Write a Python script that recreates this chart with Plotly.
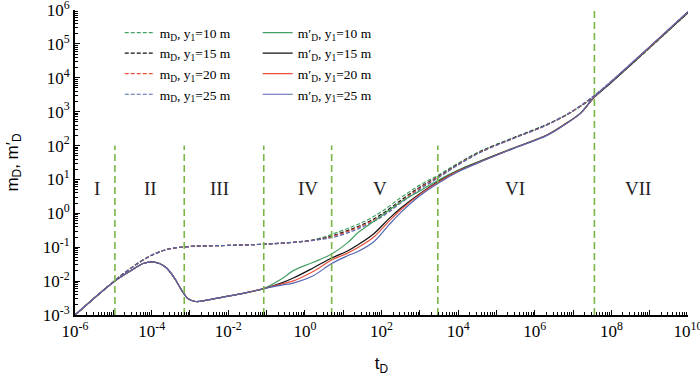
import math
import plotly.graph_objects as go

# ---------------- data ----------------
# common early part of m_D (identical for all y1)
t_m_common = [1e-6, 1e-5, 3e-5, 1e-4, 3e-4, 1e-3, 1e-2, 1e-1, 1]
m_common = [1.0e-3, 9.5e-3, 0.025, 0.058, 0.09, 0.105, 0.113, 0.124, 0.15]

# later part of m_D, per series
t_m_late = [3, 5, 16, 42, 100, 316, 1000, 2950, 1e4, 3.7e4, 2.75e5, 2.1e6, 1e7,
            3.6e7, 1e8, 3.16e8, 1e9, 3.16e9, 1e10]
m_10 = [0.195, 0.24, 0.39, 0.63, 1.12, 2.88, 6.8, 13.2, 30.2, 67.6, 170, 427, 1047,
        2820, 7410, 23400, 75900, 251000, 832000]
m_15 = [0.182, 0.214, 0.339, 0.537, 0.933, 2.4, 5.9, 12.0, 28.2, 64.6, 166, 417, 1047,
        2880, 7590, 24000, 77600, 257000, 851000]
m_20 = [0.178, 0.204, 0.316, 0.50, 0.85, 2.19, 5.5, 11.5, 27.5, 63.1, 162, 407, 1047,
        2950, 7760, 24500, 79400, 263000, 871000]
m_25 = [0.174, 0.19, 0.288, 0.457, 0.776, 2.0, 5.1, 11.0, 26.9, 61.7, 162, 407, 1072,
        3020, 7940, 25100, 81300, 269000, 891000]

# common early part of the derivative m'_D
t_d_common = [1e-6, 1e-5, 3e-5, 6e-5, 1e-4, 1.6e-4, 2.5e-4, 4e-4, 6e-4, 9e-4, 1.4e-3,
              3e-3, 1e-2, 3e-2, 8e-2]
d_common = [1.0e-3, 9.3e-3, 0.021, 0.033, 0.037, 0.033, 0.024, 0.012, 0.0055, 0.003,
            0.0025, 0.0028, 0.0036, 0.0046, 0.0059]

# later part of m'_D, per series
t_d_late = [0.25, 0.5, 1.6, 5, 12.6, 25, 63, 160, 316, 1000, 2950, 1e4, 3.7e4, 2.75e5,
            2.1e6, 5.6e6, 1.55e7, 2.5e7, 3.6e7, 1e8, 1e9, 1e10]
d_10 = [0.0117, 0.0204, 0.0355, 0.063, 0.132, 0.275, 0.58, 1.26, 2.14, 4.6, 9.3, 18.8,
        34.7, 85, 209, 407, 891, 1660, 2690, 7240, 77600, 832000]
d_15 = [0.0089, 0.0123, 0.024, 0.048, 0.076, 0.12, 0.25, 0.71, 1.41, 3.8, 8.5, 18.0,
        33.9, 83, 204, 398, 891, 1660, 2690, 7410, 79400, 851000]
d_20 = [0.0083, 0.0102, 0.019, 0.042, 0.066, 0.10, 0.20, 0.60, 1.26, 3.63, 8.1, 17.6,
        33.1, 83, 204, 398, 891, 1660, 2750, 7590, 81300, 871000]
d_25 = [0.0076, 0.0087, 0.0141, 0.033, 0.055, 0.076, 0.145, 0.47, 1.05, 3.3, 7.6,
        16.8, 32.4, 81, 200, 389, 891, 1700, 2820, 7760, 83200, 891000]

y1_labels = ["10", "15", "20", "25"]
colors = ["#45a065", "#111111", "#e8513d", "#5566b0"]

# flow-regime boundaries and labels
boundary_t = [1.1e-5, 7.1e-4, 0.0845, 5.0, 2950, 3.6e7]
boundary_top = [100, 100, 100, 100, 100, 1e6]
regime_labels = ["I", "II", "III", "IV", "V", "VI", "VII"]
regime_t = [3.7e-6, 9.1e-5, 5.9e-3, 1.2, 91, 3.1e5, 5.1e8]
regime_y = 5.5

x_tick_exp = list(range(-6, 11))
y_tick_exp = list(range(-3, 7))

# ---------------- figure ----------------
fig = go.Figure()

m_late = [m_10, m_15, m_20, m_25]
d_late = [d_10, d_15, d_20, d_25]

for lab, col, ml in zip(y1_labels, colors, m_late):
    fig.add_trace(go.Scatter(
        x=t_m_common + t_m_late, y=m_common + ml, mode="lines",
        line=dict(color=col, width=1.2, dash="4px,2px", shape="spline"),
        name=f"m<sub>D</sub>, y<sub>1</sub>={lab} m", legend="legend"))

for lab, col, dl in zip(y1_labels, colors, d_late):
    fig.add_trace(go.Scatter(
        x=t_d_common + t_d_late, y=d_common + dl, mode="lines",
        line=dict(color=col, width=1.2, shape="spline"),
        name=f"m′<sub>D</sub>, y<sub>1</sub>={lab} m", legend="legend2"))

for bt, top in zip(boundary_t, boundary_top):
    fig.add_trace(go.Scatter(
        x=[bt, bt], y=[1e-3, top], mode="lines",
        line=dict(color="#7ab648", width=1.6, dash="7px,4px"),
        showlegend=False, hoverinfo="skip"))

for lab, rt in zip(regime_labels, regime_t):
    fig.add_annotation(x=math.log10(rt), y=math.log10(regime_y),
                       xref="x", yref="y", text=lab, showarrow=False,
                       font=dict(family="Liberation Serif", size=19, color="#222"))

font_serif = dict(family="Liberation Serif", size=17, color="black")

minor_x = [k * 10.0 ** e for e in range(-6, 10) for k in range(2, 10)]
minor_y = [k * 10.0 ** e for e in range(-3, 6) for k in range(2, 10)]

fig.update_xaxes(
    type="log", range=[-6, 10], automargin=False,
    tickmode="array",
    tickvals=[10.0 ** e for e in x_tick_exp],
    ticktext=[f"10<sup>{e}</sup>" if e % 2 == 0 else "" for e in x_tick_exp],
    ticks="inside", ticklen=5, tickwidth=1.3, tickcolor="black",
    minor=dict(tickvals=minor_x, ticks="inside", ticklen=3, tickwidth=1, tickcolor="black"),
    showline=True, linewidth=2, linecolor="black", showgrid=False, zeroline=False,
    tickfont=font_serif, ticklabeloverflow="allow",
    title=dict(text="t<sub>D</sub>", font=dict(family="Liberation Sans", size=17, color="black"),
               standoff=17),
)
fig.update_yaxes(
    type="log", range=[-3, 6], automargin=False,
    tickmode="array",
    tickvals=[10.0 ** e for e in y_tick_exp],
    ticktext=[f"10<sup>{e}</sup>" for e in y_tick_exp],
    ticks="inside", ticklen=5, tickwidth=1.3, tickcolor="black",
    minor=dict(tickvals=minor_y, ticks="inside", ticklen=3, tickwidth=1, tickcolor="black"),
    showline=True, linewidth=2, linecolor="black", showgrid=False, zeroline=False,
    tickfont=font_serif, ticklabeloverflow="allow",
    title=dict(text="m<sub>D</sub>, m′<sub>D</sub>",
               font=dict(family="Liberation Sans", size=17, color="black"), standoff=20),
)

legend_font = dict(family="Liberation Serif", size=13.5, color="black")
fig.update_layout(
    width=700, height=382,
    margin=dict(l=75, r=12, t=10, b=67),
    paper_bgcolor="white", plot_bgcolor="white",
    showlegend=True,
    legend=dict(x=0.073, y=0.976, xanchor="left", yanchor="top", bgcolor="rgba(0,0,0,0)",
                font=legend_font, tracegroupgap=0, itemwidth=30),
    legend2=dict(x=0.298, y=0.976, xanchor="left", yanchor="top", bgcolor="rgba(0,0,0,0)",
                 font=legend_font, tracegroupgap=0, itemwidth=30),
)

fig.write_html("out.html", config={"displayModeBar": False},
               post_script="document.body.style.margin='0px';")
